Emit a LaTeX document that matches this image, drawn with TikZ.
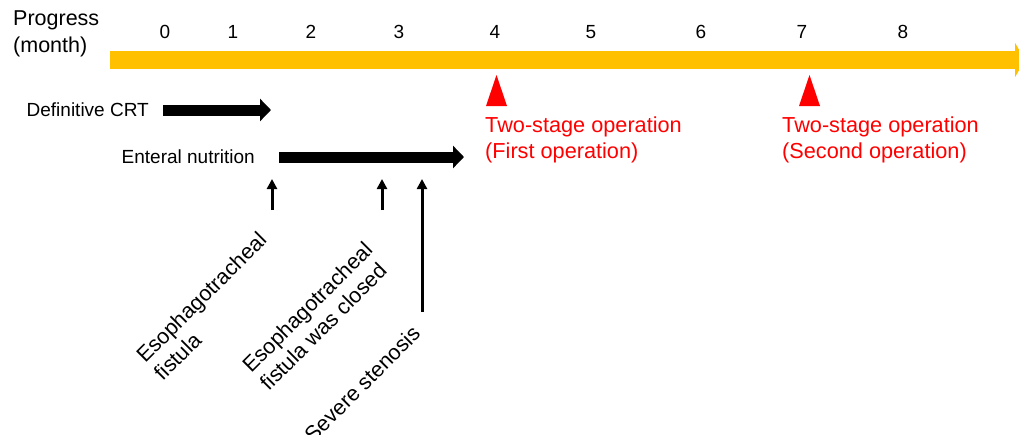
\documentclass[tikz,border=0pt]{standalone}
\usepackage{fontspec}
\setmainfont{Liberation Sans}
\usetikzlibrary{arrows.meta,positioning}
\definecolor{progorange}{HTML}{FFC000}
\definecolor{opred}{HTML}{FF0000}

\begin{document}
\begin{tikzpicture}[
  x=1pt, y=-1pt,
  lbl/.style={font=\fontsize{19}{23}\selectfont, inner sep=0pt},
  oplbl/.style={font=\fontsize{21.7}{26}\selectfont, text=opred, align=left, inner sep=0pt},
  event/.style={font=\fontsize{21.5}{25}\selectfont, inner sep=0pt, align=left, rotate=45},
  timeline/.style={-{Triangle[length=10pt,width=34pt]}, line width=18pt, draw=progorange},
  therapy/.style={-{Triangle[length=11pt,width=22pt]}, line width=11pt},
  evtarrow/.style={-{Triangle[length=10pt,width=10pt]}, line width=3pt},
  optri/.style={fill=opred}
]
  \useasboundingbox (0,0) rectangle (1019,434);

  % time axis
  \node[lbl, font=\fontsize{21.5}{27}\selectfont, align=left, anchor=west] (prog) at (13,34) {Progress\\(month)};
  \coordinate (tl-start) at (110,60);
  \coordinate (tl-end) at (1025,60);
  \draw[timeline] (tl-start) -- (tl-end);
  \foreach \m/\xpos in {0/165,1/233,2/311,3/399,4/495,5/591,6/701,7/802,8/903}
    \node[lbl] (m\m) at (\xpos,32) {\m};

  % treatments
  \node[lbl, anchor=east] (crt) at (149,110) {Definitive CRT};
  \coordinate (crt-a) at (163,110);
  \coordinate (crt-b) at (271,110);
  \draw[therapy] (crt-a) -- (crt-b);
  \node[lbl, anchor=east] (enteral) at (255,157) {Enteral nutrition};
  \coordinate (ent-a) at (279,157);
  \coordinate (ent-b) at (464,157);
  \draw[therapy] (ent-a) -- (ent-b);

  % events
  \coordinate (fis-a) at (272,210);
  \coordinate (fis-b) at (272,179);
  \coordinate (cls-a) at (382,210);
  \coordinate (cls-b) at (382,179);
  \coordinate (sten-a) at (422,312);
  \coordinate (sten-b) at (422,179);
  \draw[evtarrow] (fis-a) -- (fis-b);
  \draw[evtarrow] (cls-a) -- (cls-b);
  \draw[evtarrow] (sten-a) -- (sten-b);
  \node[event] (fistula) at (210,306) {Esophagotracheal\\fistula};
  \node[event] (closed) at (316,316) {Esophagotracheal\\fistula was closed};
  \node[event] (stenosis) at (362,384) {Severe stenosis};

  % operations
  \coordinate (tri1) at (496.5,106);
  \coordinate (tri2) at (809.5,106);
  \fill[optri] (tri1) ++(-10.5,0) -- ++(21,0) -- ++(-10.5,-31) -- cycle;
  \fill[optri] (tri2) ++(-10.5,0) -- ++(21,0) -- ++(-10.5,-31) -- cycle;
  \node[oplbl, anchor=north west] (op1) at (485,117) {Two-stage operation\\(First operation)};
  \node[oplbl, anchor=north west] (op2) at (782,117) {Two-stage operation\\(Second operation)};
\end{tikzpicture}
\end{document}
